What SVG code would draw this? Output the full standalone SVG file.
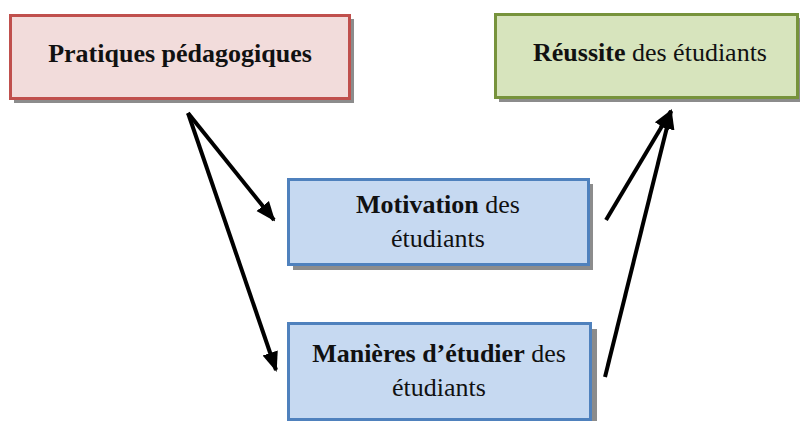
<svg xmlns="http://www.w3.org/2000/svg" width="800" height="421" viewBox="0 0 800 421">
<style>
.shadow{fill:#8c8c8c}
.box{stroke-width:3}
.red{fill:#f2dcdb;stroke:#c0504d}
.green{fill:#d7e4bd;stroke:#77933c}
.blue{fill:#c6d9f1;stroke:#4f81bd}
text{font-family:"Liberation Serif","Times New Roman",serif;font-size:26px;fill:#111;text-anchor:middle}
.b{font-weight:bold}
.conn line{stroke:#000;stroke-width:4}
</style>
<defs>
<marker id="ah" markerUnits="userSpaceOnUse" markerWidth="20" markerHeight="20" viewBox="0 0 20 20" refX="18" refY="10" orient="auto">
<path d="M0,2 L20,10 L0,18 Z" fill="#000"/>
</marker>
</defs>
<rect width="800" height="421" fill="#fff"/>
<g id="pratiques">
<rect class="shadow" x="14" y="19" width="340" height="84"/>
<rect class="box red" x="10.5" y="15.5" width="339" height="83"/>
<text x="180" y="62" class="b">Pratiques pédagogiques</text>
</g>
<g id="reussite">
<rect class="shadow" x="499" y="18" width="305" height="84"/>
<rect class="box green" x="495.5" y="14.5" width="302" height="83"/>
<text x="650" y="61"><tspan class="b">Réussite</tspan> des étudiants</text>
</g>
<g id="motivation">
<rect class="shadow" x="293" y="184" width="300" height="86"/>
<rect class="box blue" x="288.5" y="179.5" width="300" height="85"/>
<text x="438" y="213"><tspan class="b">Motivation</tspan> des</text>
<text x="438" y="247">étudiants</text>
</g>
<g id="manieres">
<rect class="shadow" x="294" y="329" width="303" height="96"/>
<rect class="box blue" x="288.5" y="323.5" width="302" height="96"/>
<text x="439" y="362"><tspan class="b">Manières d’étudier</tspan> des</text>
<text x="439" y="396">étudiants</text>
</g>
<g class="conn" id="connectors">
<line x1="188" y1="113" x2="274" y2="220" marker-end="url(#ah)"/>
<line x1="188" y1="113" x2="276" y2="370" marker-end="url(#ah)"/>
<line x1="606" y1="220" x2="671" y2="111" marker-end="url(#ah)"/>
<line x1="605" y1="377" x2="671" y2="111" marker-end="url(#ah)"/>
</g>
</svg>
